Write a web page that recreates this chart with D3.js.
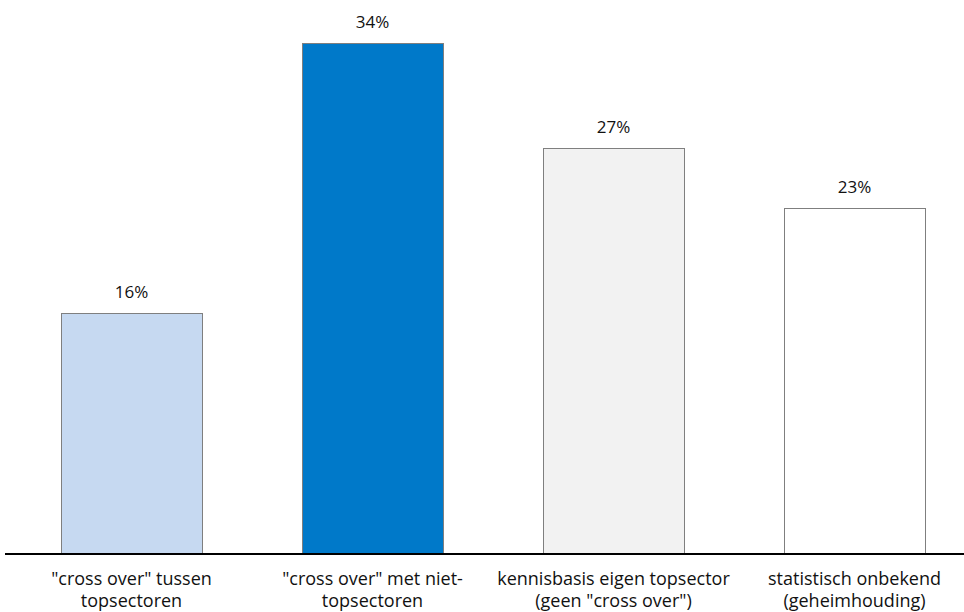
<!DOCTYPE html>
<html>
<head>
<meta charset="utf-8">
<script src="https://cdn.jsdelivr.net/npm/d3@7"></script>
<style>
  body { margin: 0; background: #fff; }
  svg text { font-family: "Open Sans", "Noto Sans", sans-serif; fill: #111; }
</style>
</head>
<body>
<svg id="graph" width="964" height="612"></svg>
<script>
// chart data
const categories = [
  ['"cross over" tussen', 'topsectoren'],
  ['"cross over" met niet-', 'topsectoren'],
  ['kennisbasis eigen topsector', '(geen "cross over")'],
  ['statistisch onbekend', '(geheimhouding)']
];
const values = [16, 34, 27, 23];
const colors = ['#c6d9f1', '#0079c9', '#f2f2f2', '#ffffff'];

const svg = d3.select('svg#graph');
const baseY = 553;

// scales
const x = d3.scaleBand()
  .domain(d3.range(categories.length))
  .range([11, 975])
  .paddingInner(100 / 241)
  .paddingOuter(50 / 241);
const y = d3.scaleLinear().domain([0, 34]).range([baseY, 43]);

const g = svg.append('g');

g.selectAll('rect.bar')
  .data(values)
  .join('rect')
  .attr('class', 'bar')
  .attr('x', (d, i) => x(i) + 0.5)
  .attr('y', d => y(d) + 0.5)
  .attr('width', x.bandwidth())
  .attr('height', d => baseY - y(d))
  .attr('fill', (d, i) => colors[i])
  .attr('stroke', '#7f7f7f')
  .attr('stroke-width', 1);

g.selectAll('text.val')
  .data(values)
  .join('text')
  .attr('class', 'val')
  .attr('x', (d, i) => x(i) + x.bandwidth() / 2)
  .attr('y', d => y(d) - 15)
  .attr('text-anchor', 'middle')
  .style('font-size', '17px')
  .text(d => d + '%');

// baseline
svg.append('line')
  .attr('x1', 5).attr('x2', 964)
  .attr('y1', baseY + 1).attr('y2', baseY + 1)
  .attr('stroke', '#000')
  .attr('stroke-width', 2);

// category labels, one text per line
categories.forEach((lines, i) => {
  lines.forEach((s, j) => {
    g.append('text')
      .attr('class', 'cat')
      .attr('x', x(i) + x.bandwidth() / 2)
      .attr('y', 585 + j * 22)
      .attr('text-anchor', 'middle')
      .style('font-size', '18px')
      .text(s);
  });
});
</script>
</body>
</html>
